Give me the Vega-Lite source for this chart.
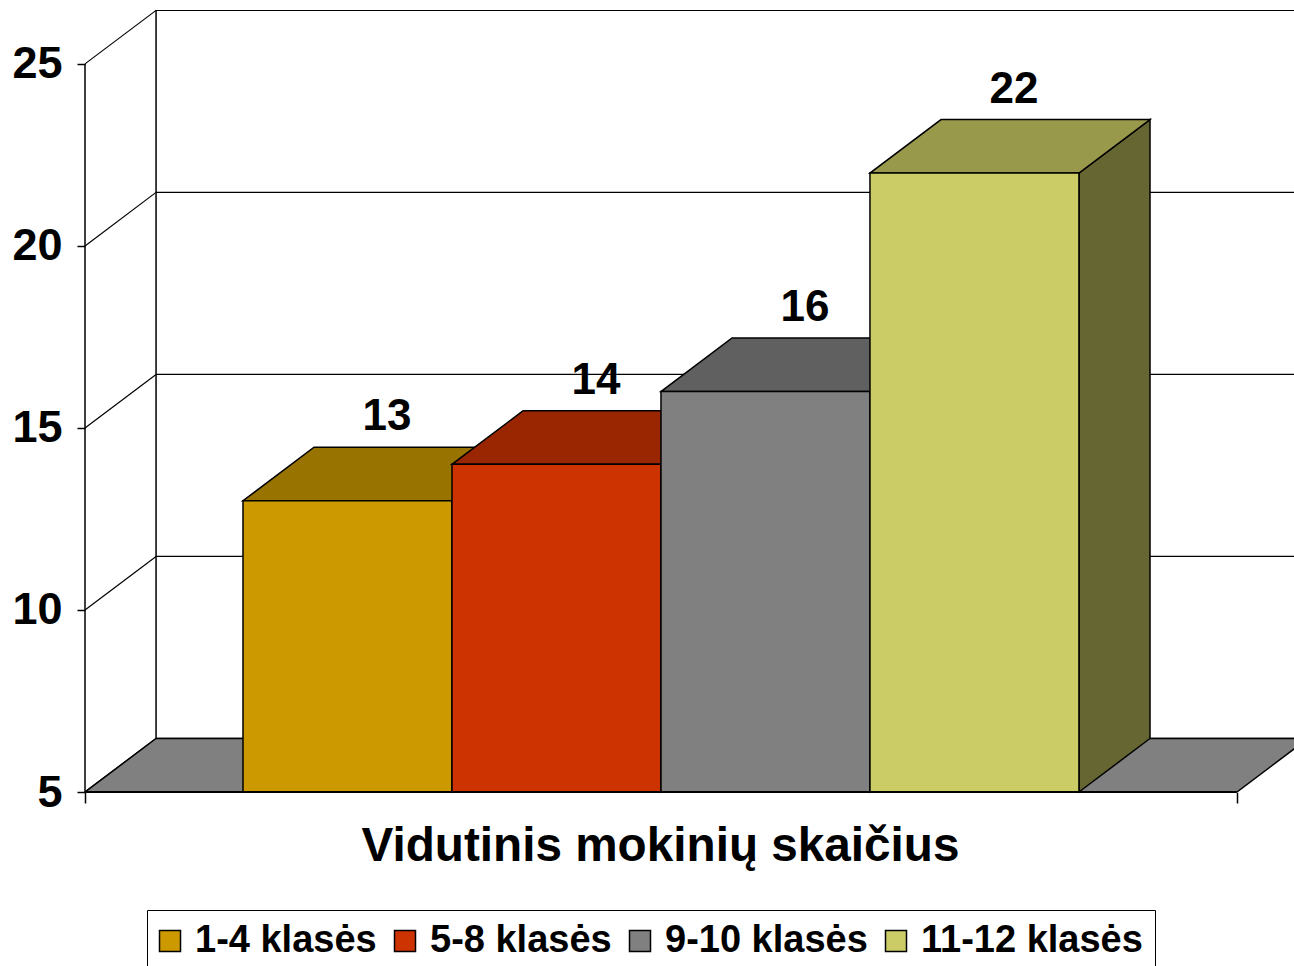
{
  "$schema": "https://vega.github.io/schema/vega-lite/v6.json",
  "autosize": "none",
  "width": 1209,
  "height": 782,
  "padding": {"left": 85, "top": 10, "right": 0, "bottom": 174},
  "background": "white",
  "config": {
    "font": "Liberation Sans",
    "view": {"stroke": null}
  },
  "datasets": {
    "bars": [
      {"klase": "1-4 klasės", "value": 13},
      {"klase": "5-8 klasės", "value": 14},
      {"klase": "9-10 klasės", "value": 16},
      {"klase": "11-12 klasės", "value": 22}
    ],
    "levels": [
      {"level": 5},
      {"level": 10},
      {"level": 15},
      {"level": 20},
      {"level": 25}
    ]
  },
  "data": {"name": "bars"},
  "resolve": {"scale": {"fill": "independent"}},
  "layer": [
    {
      "data": {"values": [{}]},
      "mark": {"type": "rect", "fill": "white", "stroke": "black", "strokeWidth": 1.5, "clip": true},
      "encoding": {
        "x": {"datum": 0.34, "type": "quantitative", "scale": {"domain": [0, 5.785], "nice": false, "zero": false}},
        "x2": {"datum": 5.852},
        "y": {"datum": 6.47, "type": "quantitative", "scale": {"domain": [5, 26.48], "nice": false, "zero": false}},
        "y2": {"datum": 26.47}
      }
    },
    {
      "data": {"name": "levels"},
      "transform": [
        {"filter": "datum.level > 5 && datum.level < 25"},
        {"calculate": "datum.level + 1.47", "as": "back"}
      ],
      "mark": {"type": "rule", "stroke": "black", "strokeWidth": 1.2, "clip": true},
      "encoding": {
        "x": {"datum": 0.34, "type": "quantitative"},
        "x2": {"datum": 5.852},
        "y": {"field": "back", "type": "quantitative"}
      }
    },
    {
      "data": {"name": "levels"},
      "transform": [
        {"calculate": "datum.level + 1.47", "as": "back"}
      ],
      "mark": {"type": "rule", "stroke": "black", "strokeWidth": 1.2},
      "encoding": {
        "x": {"datum": 0, "type": "quantitative"},
        "x2": {"datum": 0.34},
        "y": {"field": "level", "type": "quantitative"},
        "y2": {"field": "back"}
      }
    },
    {
      "transform": [
        {"window": [{"op": "row_number", "as": "i"}]},
        {"filter": "datum.i == 1"},
        {"calculate": "[0, 1, 2, 3]", "as": "k"},
        {"flatten": ["k"]},
        {"calculate": "[0, 0.34, 5.512, 5.852][datum.k]", "as": "px"},
        {"calculate": "[5, 5, 5, 6.47][datum.k]", "as": "py"},
        {"calculate": "[5, 6.47, 6.47, 6.47][datum.k]", "as": "py2"}
      ],
      "mark": {"type": "area", "orient": "vertical", "fill": "#808080", "stroke": "black", "strokeWidth": 1.5, "clip": true},
      "encoding": {
        "x": {"field": "px", "type": "quantitative"},
        "y": {"field": "py", "type": "quantitative"},
        "y2": {"field": "py2"}
      }
    },
    {
      "data": {"values": [{}]},
      "mark": {"type": "rule", "stroke": "black", "strokeWidth": 1.5},
      "encoding": {
        "x": {"datum": 0, "type": "quantitative"},
        "y": {"datum": 5, "type": "quantitative"},
        "y2": {"datum": 25}
      }
    },
    {
      "transform": [
        {"window": [{"op": "row_number", "as": "i"}]},
        {"calculate": "0.756 + datum.i - 1", "as": "x0"},
        {"calculate": "[0, 1]", "as": "k"},
        {"flatten": ["k"]},
        {"calculate": "datum.x0 + 1 + [0, 0.34][datum.k]", "as": "px"},
        {"calculate": "5 + [0, 1.47][datum.k]", "as": "py"},
        {"calculate": "datum.value + [0, 1.47][datum.k]", "as": "py2"}
      ],
      "mark": {"type": "area", "orient": "vertical", "stroke": "black", "strokeWidth": 1.5, "strokeJoin": "miter"},
      "encoding": {
        "x": {"field": "px", "type": "quantitative"},
        "y": {"field": "py", "type": "quantitative"},
        "y2": {"field": "py2"},
        "fill": {
          "field": "klase", "type": "nominal",
          "scale": {"domain": ["1-4 klasės", "5-8 klasės", "9-10 klasės", "11-12 klasės"], "range": ["#664D00", "#661A00", "#404040", "#666633"]},
          "legend": null
        }
      }
    },
    {
      "transform": [
        {"window": [{"op": "row_number", "as": "i"}]},
        {"calculate": "0.756 + datum.i - 1", "as": "x0"},
        {"calculate": "[0, 1, 2, 3]", "as": "k"},
        {"flatten": ["k"]},
        {"calculate": "datum.x0 + [0, 0.34, 1, 1.34][datum.k]", "as": "px"},
        {"calculate": "datum.value + [0, 0, 0, 1.47][datum.k]", "as": "py"},
        {"calculate": "datum.value + [0, 1.47, 1.47, 1.47][datum.k]", "as": "py2"}
      ],
      "mark": {"type": "area", "orient": "vertical", "stroke": "black", "strokeWidth": 1.5, "strokeJoin": "miter"},
      "encoding": {
        "x": {"field": "px", "type": "quantitative"},
        "y": {"field": "py", "type": "quantitative"},
        "y2": {"field": "py2"},
        "fill": {
          "field": "klase", "type": "nominal",
          "scale": {"domain": ["1-4 klasės", "5-8 klasės", "9-10 klasės", "11-12 klasės"], "range": ["#997300", "#992600", "#606060", "#99994C"]},
          "legend": null
        }
      }
    },
    {
      "transform": [
        {"window": [{"op": "row_number", "as": "i"}]},
        {"calculate": "0.756 + datum.i - 1", "as": "x0"},
        {"calculate": "datum.x0 + 1", "as": "x1"}
      ],
      "mark": {"type": "rect", "stroke": "black", "strokeWidth": 1.5},
      "encoding": {
        "x": {
          "field": "x0", "type": "quantitative",
          "scale": {"domain": [0, 5.785], "nice": false, "zero": false},
          "axis": {
            "values": [0, 5.512], "labels": false, "domain": false, "grid": false,
            "tickSize": 11, "tickWidth": 1.5, "tickColor": "black",
            "title": "Vidutinis mokinių skaičius",
            "titleFont": "Liberation Sans", "titleFontSize": 47.7, "titleFontWeight": "bold", "titleColor": "black",
            "titleX": 575, "titleY": 68, "titleAlign": "center", "titleBaseline": "alphabetic", "titleAnchor": null
          }
        },
        "x2": {"field": "x1"},
        "y": {
          "field": "value", "type": "quantitative",
          "scale": {"domain": [5, 26.48], "nice": false, "zero": false},
          "axis": {
            "values": [5, 10, 15, 20, 25], "domain": false, "grid": false,
            "tickSize": 8, "tickWidth": 1.5, "tickColor": "black",
            "labelFont": "Liberation Sans", "labelFontSize": 45, "labelFontWeight": "bold", "labelColor": "black",
            "labelPadding": 15, "title": null
          }
        },
        "y2": {"datum": 5},
        "fill": {
          "field": "klase", "type": "nominal",
          "scale": {"domain": ["1-4 klasės", "5-8 klasės", "9-10 klasės", "11-12 klasės"], "range": ["#CC9900", "#CC3300", "#808080", "#CCCC66"]},
          "legend": {
            "orient": "none", "legendX": 62, "legendY": 900, "direction": "horizontal", "title": null,
            "symbolType": "square", "symbolSize": 441, "symbolStrokeColor": "black", "symbolStrokeWidth": 1.5, "symbolOpacity": 1,
            "symbolOffset": -8,
            "labelFont": "Liberation Sans", "labelFontSize": 38, "labelFontWeight": "bold", "labelColor": "black",
            "labelLimit": 0, "labelOffset": 6, "columnPadding": 14, "padding": 12, "strokeColor": "black"
          }
        }
      }
    },
    {
      "data": {"values": [{}]},
      "mark": {"type": "rule", "stroke": "black", "strokeWidth": 2},
      "encoding": {
        "x": {"datum": 0, "type": "quantitative"},
        "x2": {"datum": 5.512},
        "y": {"datum": 5, "type": "quantitative"}
      }
    },
    {
      "transform": [
        {"window": [{"op": "row_number", "as": "i"}]},
        {"calculate": "0.756 + datum.i - 1 + 0.5 + 0.17", "as": "xc"},
        {"calculate": "datum.value + 1.47", "as": "yt"}
      ],
      "mark": {"type": "text", "font": "Liberation Sans", "fontSize": 44, "fontWeight": "bold", "color": "black", "baseline": "alphabetic", "align": "center", "dx": 4, "dy": -17},
      "encoding": {
        "x": {"field": "xc", "type": "quantitative"},
        "y": {"field": "yt", "type": "quantitative"},
        "text": {"field": "value", "type": "quantitative"}
      }
    }
  ]
}
